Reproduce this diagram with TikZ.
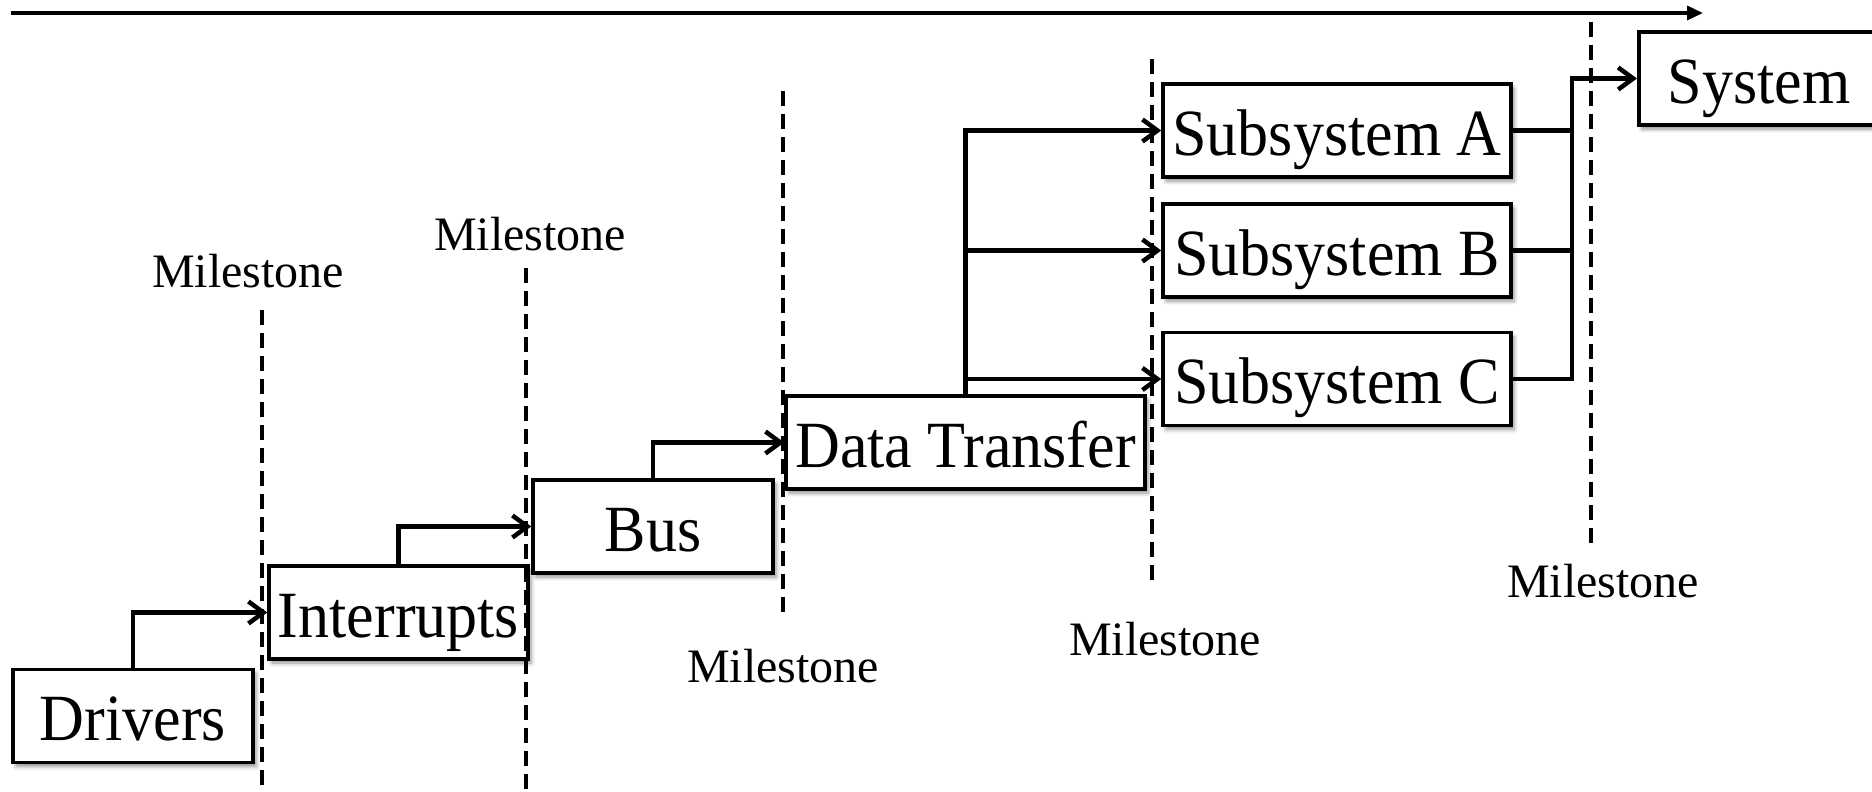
\documentclass[tikz,border=0pt]{standalone}
\usepackage{fontspec}
\setmainfont{Liberation Serif}
\newfontfamily\stagefont[FakeStretch=0.94]{Liberation Serif}
\usetikzlibrary{arrows.meta,shadows.blur}
\begin{document}
\begin{tikzpicture}[x=1pt,y=-1pt]
\tikzset{
  stage/.style={draw, line width=3.5pt, fill=white, inner sep=0pt, minimum height=93pt,
    font=\stagefont\fontsize{66}{72}\selectfont, text height=49pt, text depth=0pt,
    blur shadow={shadow xshift=3pt, shadow yshift=-4pt, shadow blur radius=4pt, shadow opacity=45}},
  conn/.style={line width=4.5pt, -{Straight Barb[length=15pt,width=22pt]}},
  feed/.style={line width=4.5pt},
  msline/.style={line width=3.5pt, dash pattern=on 15pt off 8pt},
  mslabel/.style={font=\fontsize{48}{54}\selectfont, anchor=base, inner sep=0pt},
  axis/.style={line width=3.5pt, -{Triangle[length=16pt,width=14pt]}},
}
\useasboundingbox (0,0) rectangle (1872,792);

% timeline
\coordinate (axis0) at (11,13);
\coordinate (axis1) at (1703,13);
\draw[axis] (axis0) -- (axis1);

% integration stages
\node[stage, minimum width=240pt] (drivers)    at (133,716)   {Drivers};
\node[stage, minimum width=259pt] (interrupts) at (398.5,612.5) {Interrupts};
\node[stage, minimum width=240pt] (bus)        at (653,526.5) {Bus};
\node[stage, minimum width=359pt] (dt)         at (965.5,442.5) {Data Transfer};
\node[stage, minimum width=348pt] (subA)       at (1337,130.5) {Subsystem A};
\node[stage, minimum width=348pt] (subB)       at (1337,250.5) {Subsystem B};
\node[stage, minimum width=348pt] (subC)       at (1337,379)   {Subsystem C};
\node[stage, anchor=west, inner xsep=29pt] (system) at (1637,78.5) {System};

% flow between stages
\draw[conn] (drivers.north) |- (interrupts.west);
\draw[conn] (interrupts.north) |- (bus.west);
\draw[conn] (bus.north) |- (dt.west);
\draw[conn] (dt.north) |- (subA.west);
\draw[conn] (dt.north) |- (subB.west);
\draw[conn] (dt.north) |- (subC.west);
\coordinate (join) at (1572,78.5);
\draw[feed] (subA.east) -- (subA.east -| join);
\draw[feed] (subB.east) -- (subB.east -| join);
\draw[conn] (subC.east) -| (join) -- (system.west);

% milestones
\coordinate (m1a) at (262,310);  \coordinate (m1b) at (262,792);
\coordinate (m2a) at (526,268);  \coordinate (m2b) at (526,792);
\coordinate (m3a) at (783,91);   \coordinate (m3b) at (783,617);
\coordinate (m4a) at (1152,59);  \coordinate (m4b) at (1152,585);
\coordinate (m5a) at (1591,22);  \coordinate (m5b) at (1591,547);
\draw[msline] (m1a) -- (m1b);
\draw[msline] (m2a) -- (m2b);
\draw[msline] (m3a) -- (m3b);
\draw[msline] (m4a) -- (m4b);
\draw[msline] (m5a) -- (m5b);

\node[mslabel] (ms1) at (248,287)  {Milestone};
\node[mslabel] (ms2) at (530,250)  {Milestone};
\node[mslabel] (ms3) at (783,682)  {Milestone};
\node[mslabel] (ms4) at (1165,655) {Milestone};
\node[mslabel] (ms5) at (1603,597) {Milestone};
\end{tikzpicture}
\end{document}
